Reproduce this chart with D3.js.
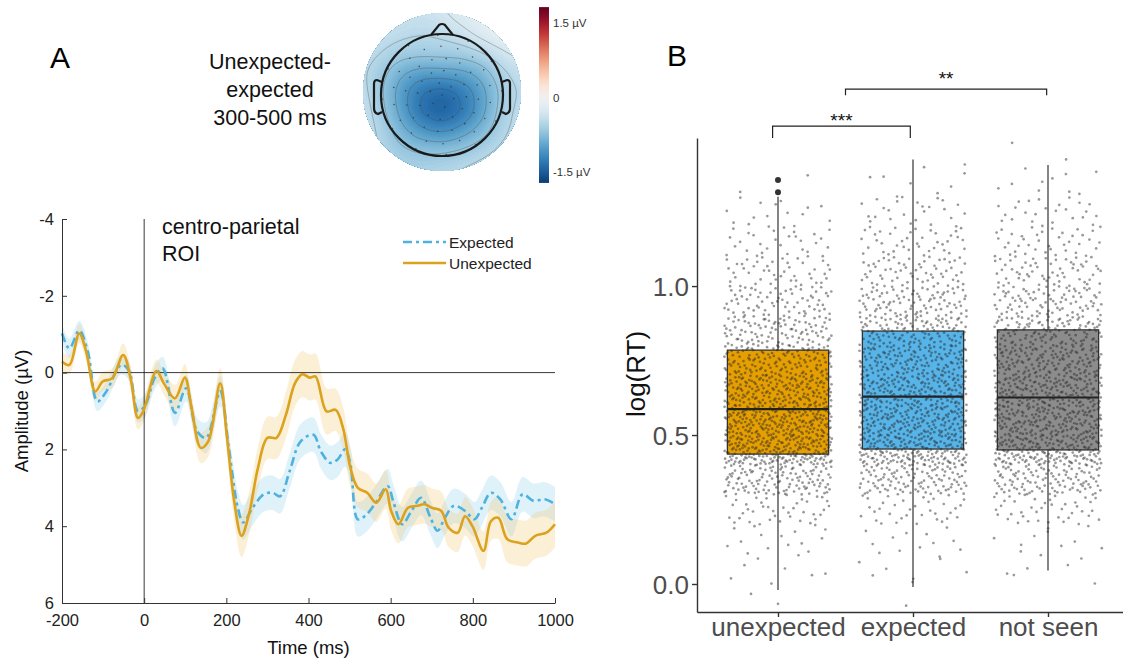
<!DOCTYPE html>
<html><head><meta charset="utf-8">
<script src="https://cdn.jsdelivr.net/npm/d3@7"></script>
<style>body{margin:0;background:#fff}svg{display:block;font-family:"Liberation Sans",Arial,sans-serif}</style>
</head><body><svg id="c" width="1123" height="661"></svg>
<script>
// ---------------- Panel A data ----------------
const timeTicks = [-200, 0, 200, 400, 600, 800, 1000];
const ampTicks = [-4, -2, 0, 2, 4, 6];

const unexpTime = [-200,-182,-158,-141,-119,-101,-78,-51,-33,-15,-2,30,48,75,99,115,138,156,185,201,219,237,255,277,300,322,345,367,385,403,417,444,466,484,502,520,543,565,588,601,619,642,664,682,700,723,741,763,781,799,826,844,862,884,912,930,952,979,1000];
const unexpAmp = [-0.29,-0.2,-1.02,-0.54,0.49,0.23,0.15,-0.46,0.15,1.18,1.0,-0.04,0.28,0.67,0.13,0.9,1.96,1.79,0.28,1.62,3.34,4.25,3.69,2.48,1.70,1.70,1.10,0.28,0.04,0.13,0.1,1.01,0.97,1.44,2.48,3.0,3.13,3.39,3.04,3.6,3.95,3.52,3.47,3.43,3.52,3.6,4.04,4.17,3.74,4.0,4.64,3.87,3.78,4.34,4.43,4.45,4.25,4.17,3.95];
const unexpSem = [0.25,0.25,0.25,0.25,0.25,0.25,0.25,0.3,0.3,0.3,0.3,0.3,0.3,0.35,0.35,0.35,0.4,0.4,0.4,0.45,0.5,0.55,0.55,0.55,0.55,0.55,0.6,0.6,0.6,0.6,0.6,0.6,0.55,0.55,0.5,0.5,0.5,0.5,0.5,0.5,0.5,0.5,0.5,0.5,0.5,0.5,0.5,0.5,0.5,0.5,0.5,0.5,0.55,0.6,0.6,0.6,0.6,0.6,0.6];

const expTime = [-200,-182,-158,-137,-114,-92,-56,-38,-15,3,25,45,75,102,129,151,185,205,228,241,264,291,313,331,354,381,412,430,453,471,489,502,520,538,561,593,606,628,651,674,697,714,732,754,781,804,822,844,867,894,921,948,975,1000];
const expAmp = [-1.02,-0.63,-1.1,-0.54,0.75,0.49,-0.2,-0.07,1.0,0.84,0.15,-0.11,1.05,0.41,1.53,1.70,0.49,1.88,3.52,3.9,3.52,3.17,3.13,3.22,2.57,1.79,1.62,2.05,2.35,2.26,2.0,2.39,3.82,3.73,3.43,2.96,3.34,3.95,3.6,3.26,3.78,4.12,3.78,3.47,3.6,3.82,3.52,3.13,3.3,3.82,3.17,3.34,3.3,3.43];
const expSem = [0.25,0.25,0.25,0.25,0.25,0.25,0.25,0.25,0.3,0.3,0.3,0.3,0.35,0.35,0.35,0.4,0.4,0.4,0.45,0.45,0.45,0.45,0.45,0.45,0.45,0.45,0.45,0.45,0.45,0.45,0.45,0.45,0.45,0.45,0.45,0.45,0.45,0.45,0.45,0.45,0.45,0.45,0.45,0.45,0.45,0.45,0.45,0.45,0.45,0.45,0.45,0.45,0.45,0.45];

const seriesNames = ["Expected", "Unexpected"];

// ---------------- Topomap data (µV, 9x9 grid over the disk, row 0 = front) ----------------
const topoGrid = [
  [-0.25,-0.3,-0.35,-0.35,-0.3,-0.2,-0.1, 0.0, 0.05],
  [-0.35,-0.4,-0.45,-0.5,-0.45,-0.35,-0.2,-0.05, 0.0],
  [-0.4,-0.5,-0.6,-0.6,-0.6,-0.6,-0.5,-0.35,-0.2],
  [-0.45,-0.65,-0.9,-1.0,-0.95,-0.95,-0.85,-0.55,-0.4],
  [-0.4,-0.7,-1.05,-1.35,-1.45,-1.3,-1.0,-0.65,-0.45],
  [-0.35,-0.65,-1.0,-1.4,-1.55,-1.35,-1.0,-0.6,-0.4],
  [-0.35,-0.55,-0.85,-1.05,-1.15,-1.0,-0.8,-0.55,-0.4],
  [-0.35,-0.55,-0.65,-0.7,-0.7,-0.65,-0.55,-0.45,-0.35],
  [-0.3,-0.45,-0.55,-0.55,-0.5,-0.45,-0.4,-0.35,-0.3]
];
const colorbarTicks = [1.5, 0, -1.5];
const colorbarLabels = ["1.5 µV", "0", "-1.5 µV"];
const electrodeRingRadius = [0, 0.2, 0.4, 0.6, 0.8, 0.98];
const electrodeRingCount = [1, 6, 12, 16, 18, 12];

// ---------------- Panel B data ----------------
const categories = ["unexpected", "expected", "not seen"];
const boxQ1 = [0.436, 0.453, 0.450];
const boxMedian = [0.587, 0.629, 0.626];
const boxQ3 = [0.785, 0.849, 0.853];
const whiskerLow = [-0.02, -0.01, 0.045];
const whiskerHigh = [1.30, 1.425, 1.406];
const outliers = [[1.315, 1.356], [], []];
const boxColors = ["#E69F00", "#56B4E9", "#8C8C8C"];
const rtTicks = [0.0, 0.5, 1.0];
// approximate count of trial dots per 0.1 log(RT) bin, bins starting at:
const binStarts = [-0.1,0.0,0.1,0.2,0.3,0.4,0.5,0.6,0.7,0.8,0.9,1.0,1.1,1.2,1.3,1.4];
const dotCounts = [
  [2, 8, 15, 40, 120, 220, 210, 180, 140, 100, 70, 45, 30, 15, 2, 0],
  [1, 8, 12, 35, 110, 190, 180, 170, 150, 120, 90, 60, 40, 25, 8, 1],
  [0, 7, 10, 40, 110, 190, 180, 170, 150, 120, 85, 60, 40, 25, 10, 2]
];
const sigFrom = [-0.04, 0.5];
const sigTo = [0.98, 1.99];
const sigLevel = [1.537, 1.661];
const sigLabels = ["***", "**"];

// =====================================================================
const svg = d3.select("#c");
svg.append("rect").attr("width", 1123).attr("height", 661).attr("fill", "#fff");
const FONT = '"Liberation Sans", Arial, sans-serif';

// ---------- Panel letters ----------
svg.append("text").attr("x", 50).attr("y", 68).attr("font-size", 30).text("A");
svg.append("text").attr("x", 667).attr("y", 66).attr("font-size", 30).text("B");

// ---------- Panel A ----------
const xA = d3.scaleLinear().domain([-200, 1000]).range([62, 555]);
const yA = d3.scaleLinear().domain([-4, 6]).range([219, 603]);
const gA = svg.append("g");

const unexp = unexpTime.map((t, i) => ({t, a: unexpAmp[i], s: unexpSem[i]}));
const expd = expTime.map((t, i) => ({t, a: expAmp[i], s: expSem[i]}));
const area = d3.area().x(d => xA(d.t)).y0(d => yA(d.a - d.s)).y1(d => yA(d.a + d.s)).curve(d3.curveCatmullRom);
const line = d3.line().x(d => xA(d.t)).y(d => yA(d.a)).curve(d3.curveCatmullRom);

gA.append("path").datum(expd).attr("d", area).attr("fill", "#8ccfee").attr("opacity", 0.28);
gA.append("path").datum(unexp).attr("d", area).attr("fill", "#f2c66a").attr("opacity", 0.28);

gA.append("line").attr("x1", xA(-200)).attr("x2", xA(1000)).attr("y1", yA(0)).attr("y2", yA(0)).attr("stroke", "#222").attr("stroke-width", 0.9);
gA.append("line").attr("x1", xA(0)).attr("x2", xA(0)).attr("y1", yA(-4)).attr("y2", yA(6)).attr("stroke", "#222").attr("stroke-width", 0.9);

gA.append("path").datum(expd).attr("d", line).attr("fill", "none").attr("stroke", "#4fb2de").attr("stroke-width", 2.6).attr("stroke-dasharray", "9,4,3,4");
gA.append("path").datum(unexp).attr("d", line).attr("fill", "none").attr("stroke", "#dca11d").attr("stroke-width", 2.6);

const fmtPlain = d => String(d);
const axA_x = gA.append("g").attr("transform", `translate(0,${yA(6)})`)
  .call(d3.axisBottom(xA).tickValues(timeTicks).tickFormat(fmtPlain).tickSize(-5).tickSizeOuter(0).tickPadding(11));
const axA_y = gA.append("g").attr("transform", `translate(${xA(-200)},0)`)
  .call(d3.axisLeft(yA).tickValues(ampTicks).tickFormat(fmtPlain).tickSize(-5).tickSizeOuter(0).tickPadding(8));
[axA_x, axA_y].forEach(a => {
  a.selectAll("path,line").attr("stroke", "#333").attr("stroke-width", 1);
  a.selectAll("text").attr("font-size", 16.5).attr("fill", "#222").attr("font-family", FONT);
});
svg.append("text").attr("x", xA(400)).attr("y", 654).attr("text-anchor", "middle").attr("font-size", 18.5).attr("fill", "#111").text("Time (ms)");
svg.append("text").attr("transform", `translate(28,${yA(1)}) rotate(-90)`).attr("text-anchor", "middle").attr("font-size", 18.5).attr("fill", "#111").text("Amplitude (µV)");

svg.append("text").attr("x", 162).attr("y", 234).attr("font-size", 21.5).attr("fill", "#111").text("centro-parietal");
svg.append("text").attr("x", 162).attr("y", 261).attr("font-size", 21.5).attr("fill", "#111").text("ROI");

// legend
const leg = svg.append("g");
const legY = [242, 263];
leg.append("line").attr("x1", 403).attr("x2", 446).attr("y1", legY[0]).attr("y2", legY[0]).attr("stroke", "#4fb2de").attr("stroke-width", 2.6).attr("stroke-dasharray", "9,4,3,4");
leg.append("line").attr("x1", 403).attr("x2", 446).attr("y1", legY[1]).attr("y2", legY[1]).attr("stroke", "#dca11d").attr("stroke-width", 2.6);
seriesNames.forEach((n, i) => leg.append("text").attr("x", 449).attr("y", legY[i] + 5.5).attr("font-size", 15.5).attr("fill", "#222").text(n));

// ---------- Topomap ----------
const topo = {cx: 442, cy: 92, r: 79};
const colorT = d3.scaleSequential(d3.interpolateRdBu).domain([1.8, -1.8]);
const G = topoGrid.length;
function field(x, y) {
  let sw = 0, sv = 0;
  const sig = 0.15;
  for (let i = 0; i < G; i++) for (let j = 0; j < G; j++) {
    const gx = -1 + j * 2 / (G - 1), gy = -1 + i * 2 / (G - 1);
    const d2 = (x - gx) ** 2 + (y - gy) ** 2;
    const w = Math.exp(-d2 / (2 * sig * sig));
    sw += w; sv += w * topoGrid[i][j];
  }
  return sv / sw;
}
const N = 110, span = 1.12;
const vals = new Array(N * N);
for (let i = 0; i < N; i++) for (let j = 0; j < N; j++) {
  const x = -span + (j + 0.5) * 2 * span / N, y = -span + (i + 0.5) * 2 * span / N;
  vals[i * N + j] = field(x, y);
}
const cell = 2 * span * topo.r / N;
const proj = d3.geoPath(d3.geoIdentity().scale(cell).translate([topo.cx - span * topo.r, topo.cy - span * topo.r]));
const defs = svg.append("defs");
defs.append("clipPath").attr("id", "disk").append("circle").attr("cx", topo.cx).attr("cy", topo.cy).attr("r", topo.r);
const gT = svg.append("g").attr("clip-path", "url(#disk)");
const fillTh = d3.range(-1.8, 0.6, 0.03);
gT.selectAll("path.f").data(d3.contours().size([N, N]).thresholds(fillTh)(vals)).join("path")
  .attr("d", proj).attr("fill", d => colorT(d.value + 0.015)).attr("stroke", d => colorT(d.value + 0.015)).attr("stroke-width", 0.3);
gT.selectAll("path.l").data(d3.contours().size([N, N]).thresholds([-1.3, -1.1, -0.9, -0.7, -0.5, -0.3, -0.1])(vals)).join("path")
  .attr("d", proj).attr("fill", "none").attr("stroke", "#4a4a4a").attr("stroke-opacity", 0.5).attr("stroke-width", 0.7);

// head
const head = {cx: 442, cy: 95, r: 61};
svg.append("circle").attr("cx", head.cx).attr("cy", head.cy).attr("r", head.r).attr("fill", "none").attr("stroke", "#1a1a1a").attr("stroke-width", 2.2);
svg.append("path").attr("d", `M${head.cx - 11},${head.cy - head.r + 1} L${head.cx - 3},${head.cy - head.r - 9} Q${head.cx},${head.cy - head.r - 11} ${head.cx + 3},${head.cy - head.r - 9} L${head.cx + 11},${head.cy - head.r + 1}`)
  .attr("fill", "none").attr("stroke", "#1a1a1a").attr("stroke-width", 2.2);
[-1, 1].forEach(s => {
  const x0 = head.cx + s * head.r;
  svg.append("path").attr("d", `M${x0 - s * 1},${head.cy - 13} L${x0 + s * 4},${head.cy - 15} Q${x0 + s * 7},${head.cy - 15} ${x0 + s * 7},${head.cy - 11} L${x0 + s * 7},${head.cy + 13} Q${x0 + s * 7},${head.cy + 18} ${x0 + s * 3},${head.cy + 19} L${x0 - s * 1},${head.cy + 17}`)
    .attr("fill", "none").attr("stroke", "#1a1a1a").attr("stroke-width", 2.2);
});
const elec = [];
electrodeRingRadius.forEach((rr, k) => {
  const n = electrodeRingCount[k];
  for (let i = 0; i < n; i++) {
    const a = (i / n) * 2 * Math.PI + k * 0.3;
    elec.push([head.cx + rr * head.r * Math.cos(a), head.cy + rr * head.r * Math.sin(a)]);
  }
});
svg.append("g").selectAll("circle").data(elec).join("circle").attr("cx", d => d[0]).attr("cy", d => d[1]).attr("r", 0.8).attr("fill", "#333").attr("fill-opacity", 0.8);

// colorbar
const yCb = d3.scaleLinear().domain([1.5, -1.5]).range([23, 172]);
const cbTop = 1.82, cbBot = -1.72;
const grad = defs.append("linearGradient").attr("id", "cb").attr("x1", 0).attr("x2", 0).attr("y1", 0).attr("y2", 1);
d3.range(0, 1.0001, 0.05).forEach(t => grad.append("stop").attr("offset", t).attr("stop-color", colorT(cbTop + (cbBot - cbTop) * t)));
svg.append("rect").attr("x", 539).attr("y", yCb(cbTop)).attr("width", 10).attr("height", yCb(cbBot) - yCb(cbTop)).attr("fill", "url(#cb)");
colorbarTicks.forEach((v, i) => svg.append("text").attr("x", 553).attr("y", yCb(v) + 4).attr("font-size", 11.5).attr("fill", "#333").text(colorbarLabels[i]));

["Unexpected-", "expected", "300-500 ms"].forEach((t, i) =>
  svg.append("text").attr("x", 270).attr("y", 69 + i * 28).attr("text-anchor", "middle").attr("font-size", 21.5).attr("fill", "#111").text(t));

// ---------- Panel B ----------
const xB = d3.scalePoint().domain(categories).range([697, 1129]).padding(0.6);
const stepB = xB.step();
const xIdx = d3.scaleLinear().domain([0, 2]).range([xB(categories[0]), xB(categories[2])]);
const yB = d3.scaleLinear().domain([-0.094, 1.497]).range([612, 138]);
const gB = svg.append("g");
const boxW = 0.75 * stepB;

categories.forEach((c, i) => {
  const cx = xB(c);
  gB.append("line").attr("x1", cx).attr("x2", cx).attr("y1", yB(whiskerLow[i])).attr("y2", yB(boxQ1[i])).attr("stroke", "#333").attr("stroke-width", 1.2);
  gB.append("line").attr("x1", cx).attr("x2", cx).attr("y1", yB(boxQ3[i])).attr("y2", yB(whiskerHigh[i])).attr("stroke", "#333").attr("stroke-width", 1.2);
  gB.append("rect").attr("x", cx - boxW / 2).attr("y", yB(boxQ3[i])).attr("width", boxW).attr("height", yB(boxQ1[i]) - yB(boxQ3[i]))
    .attr("fill", boxColors[i]).attr("stroke", "#333").attr("stroke-width", 1.3);
  gB.append("line").attr("x1", cx - boxW / 2).attr("x2", cx + boxW / 2).attr("y1", yB(boxMedian[i])).attr("y2", yB(boxMedian[i])).attr("stroke", "#222").attr("stroke-width", 2.2);
  gB.selectAll(null).data(outliers[i]).join("circle").attr("cx", cx).attr("cy", d => yB(d)).attr("r", 3).attr("fill", "#333");
});

// trial dots: bin counts laid out inside each bin with a Halton (2,3) sequence as jitter
function halton(i, b) { let f = 1, r = 0; while (i > 0) { f /= b; r += f * (i % b); i = Math.floor(i / b); } return r; }
const dots = [];
categories.forEach((c, ci) => {
  binStarts.forEach((b0, bi) => {
    const n = dotCounts[ci][bi];
    for (let k = 0; k < n; k++) {
      const s = k + 1 + bi * 263 + ci * 1013;
      dots.push({c, v: b0 + halton(s, 3) * 0.1, u: halton(s, 2)});
    }
  });
});
gB.append("g").selectAll("circle").data(dots).join("circle")
  .attr("cx", d => xB(d.c) + (d.u - 0.5) * 0.8 * stepB)
  .attr("cy", d => yB(d.v)).attr("r", 1.35).attr("fill", "#2a2a2a").attr("fill-opacity", 0.48);

const axB_x = gB.append("g").attr("transform", `translate(0,${yB(-0.094)})`)
  .call(d3.axisBottom(xB).tickSize(5).tickSizeOuter(0).tickPadding(1));
const axB_y = gB.append("g").attr("transform", `translate(697,0)`)
  .call(d3.axisLeft(yB).tickValues(rtTicks).tickFormat(d3.format(".1f")).tickSize(5).tickSizeOuter(0).tickPadding(3));
[axB_x, axB_y].forEach(a => {
  a.selectAll("path,line").attr("stroke", "#333").attr("stroke-width", 1.4);
  a.selectAll("text").attr("font-size", 26).attr("fill", "#4d4d4d").attr("font-family", FONT);
});
axB_y.selectAll("text").attr("dy", "0.36em");
svg.append("text").attr("transform", `translate(645,374) rotate(-90)`).attr("text-anchor", "middle").attr("font-size", 26).attr("fill", "#111").text("log(RT)");

sigLabels.forEach((lab, i) => {
  const x1 = xIdx(sigFrom[i]), x2 = xIdx(sigTo[i]), y = yB(sigLevel[i]);
  const tip = i === 0 ? 12 : 6;
  gB.append("path").attr("d", `M${x1},${y + tip} V${y} H${x2} V${y + tip}`).attr("fill", "none").attr("stroke", "#222").attr("stroke-width", 1.2);
  gB.append("text").attr("x", (x1 + x2) / 2).attr("y", y + (i === 0 ? 1 : -4)).attr("text-anchor", "middle").attr("font-size", 19).attr("fill", "#111").text(lab);
});
</script></body></html>
